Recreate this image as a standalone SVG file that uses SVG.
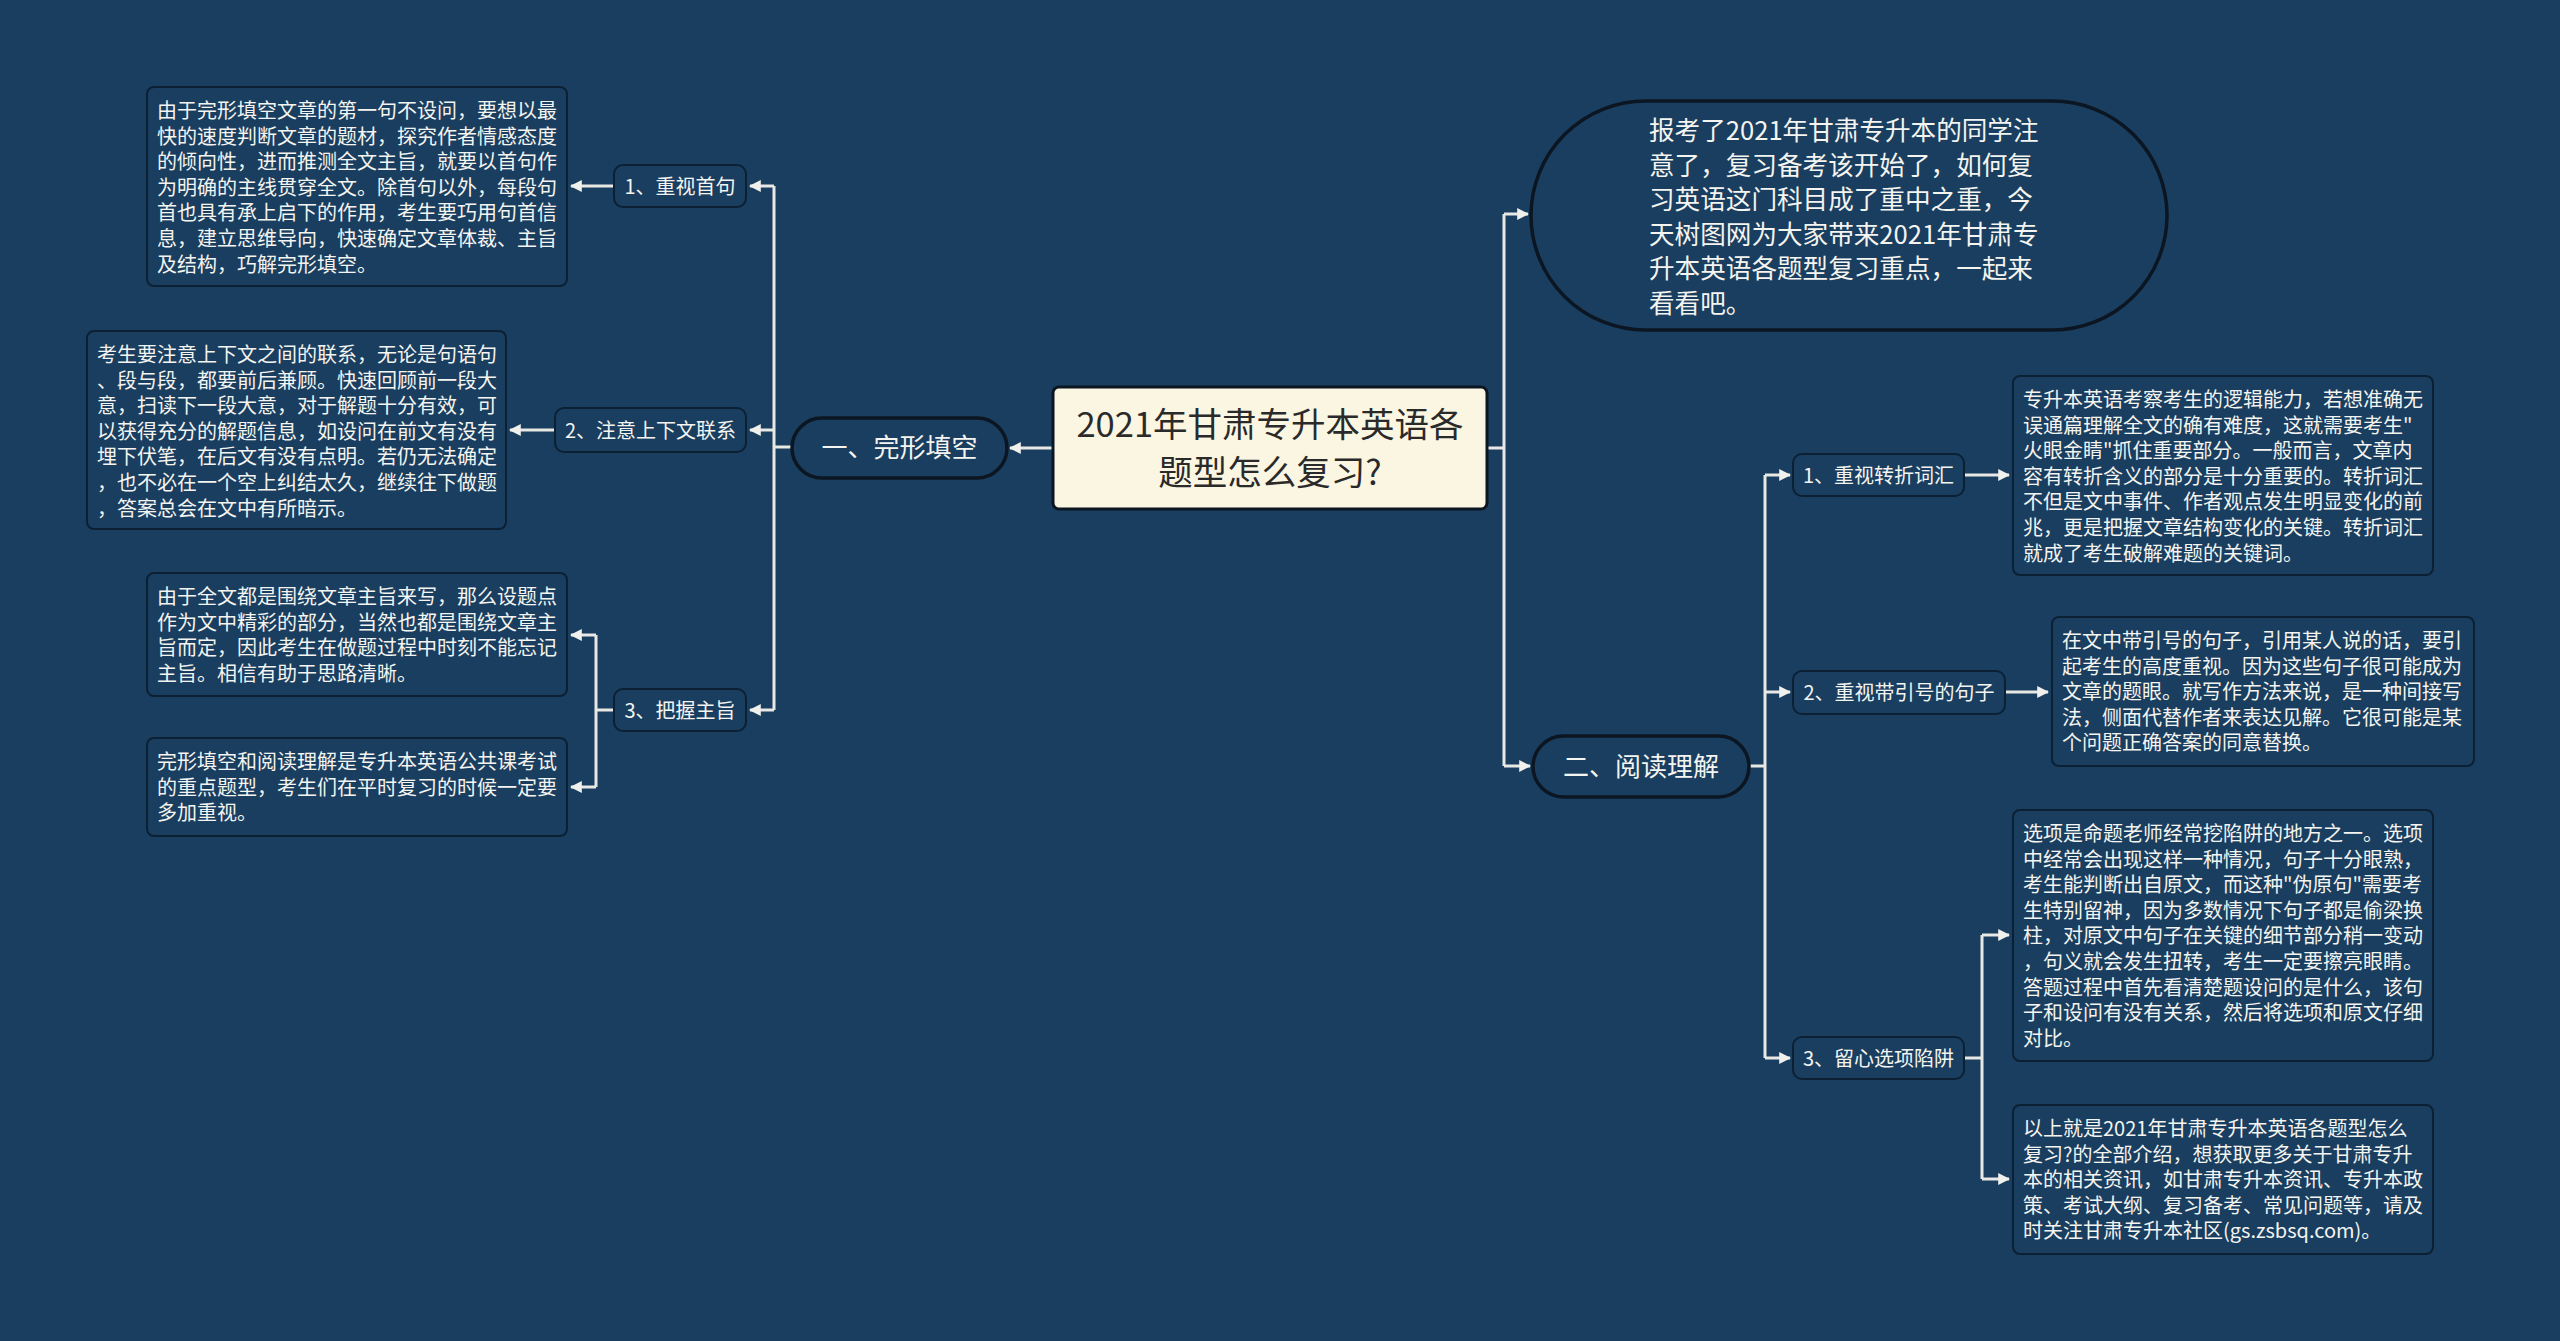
<svg xmlns="http://www.w3.org/2000/svg" width="2560" height="1341" viewBox="0 0 2560 1341">
<style>
.bg{fill:#1a3e5f}
.leaf{fill:#1a3e5f;stroke:#0c2034;stroke-width:2}
.sub{fill:#1a3e5f;stroke:#0c2034;stroke-width:2}
.pill{fill:#1a3e5f;stroke:#0b1622;stroke-width:3.5}
.root{fill:#fbf6e2;stroke:#0b1622;stroke-width:3}
.t{font-family:"Noto Sans CJK SC","Microsoft YaHei",sans-serif;fill:#f4f4f0}
.lt{font-size:20px}
.st{font-size:20px;text-anchor:middle}
.pt{font-size:26px;text-anchor:middle}
.it{font-size:25.6px}
.rt{font-family:"Noto Sans CJK SC","Microsoft YaHei",sans-serif;font-size:34.5px;fill:#2a2a2a;text-anchor:middle}
.c{fill:none;stroke:#e8e8e4;stroke-width:3}
</style>
<defs>
<marker id="ah" viewBox="0 0 10 10" refX="9" refY="5" markerWidth="4" markerHeight="4" orient="auto" markerUnits="strokeWidth">
<path d="M0,0 L10,5 L0,10 z" fill="#f0f0ec"/>
</marker>
</defs>
<rect class="bg" x="0" y="0" width="2560" height="1341"/>

<g id="connectors">
<path class="c" d="M1053,448 H1010" marker-end="url(#ah)"/>
<path class="c" d="M792,447 H774 M774,186 V710"/>
<path class="c" d="M774,186 H750" marker-end="url(#ah)"/>
<path class="c" d="M774,430 H750" marker-end="url(#ah)"/>
<path class="c" d="M774,710 H750" marker-end="url(#ah)"/>
<path class="c" d="M614,186 H571" marker-end="url(#ah)"/>
<path class="c" d="M555,430 H510" marker-end="url(#ah)"/>
<path class="c" d="M614,710 H596 M596,635 V787"/>
<path class="c" d="M596,635 H571" marker-end="url(#ah)"/>
<path class="c" d="M596,787 H571" marker-end="url(#ah)"/>
<path class="c" d="M1487,448 H1504 M1504,214 V766"/>
<path class="c" d="M1504,214 H1528" marker-end="url(#ah)"/>
<path class="c" d="M1504,766 H1530" marker-end="url(#ah)"/>
<path class="c" d="M1749,766 H1765 M1765,475 V1058"/>
<path class="c" d="M1765,475 H1790" marker-end="url(#ah)"/>
<path class="c" d="M1765,692 H1790" marker-end="url(#ah)"/>
<path class="c" d="M1765,1058 H1790" marker-end="url(#ah)"/>
<path class="c" d="M1964,475 H2009" marker-end="url(#ah)"/>
<path class="c" d="M2005,692 H2048" marker-end="url(#ah)"/>
<path class="c" d="M1964,1058 H1982 M1982,935 V1179"/>
<path class="c" d="M1982,935 H2009" marker-end="url(#ah)"/>
<path class="c" d="M1982,1179 H2009" marker-end="url(#ah)"/>
</g>

<g id="root">
<rect class="root" x="1053" y="387" width="434" height="122" rx="6"/>
<text class="rt" x="1270" y="437">2021年甘肃专升本英语各</text>
<text class="rt" x="1270" y="485">题型怎么复习?</text>
</g>

<g id="n-wanxing">
<rect class="pill" x="792" y="418" width="215" height="60" rx="30"/>
<text class="t pt" x="899.5" y="457">一、完形填空</text>
</g>

<g id="n-w1">
<rect class="sub" x="614" y="165" width="132" height="42" rx="9"/>
<text class="t st" x="680" y="194">1、重视首句</text>
</g>
<g id="n-w2">
<rect class="sub" x="555" y="408" width="191" height="44" rx="9"/>
<text class="t st" x="650.5" y="438">2、注意上下文联系</text>
</g>
<g id="n-w3">
<rect class="sub" x="614" y="689" width="132" height="42" rx="9"/>
<text class="t st" x="680" y="718">3、把握主旨</text>
</g>

<g id="leaf-w1">
<rect class="leaf" x="147" y="87" width="420" height="199" rx="7"/>
<text class="t lt" x="157" y="118">由于完形填空文章的第一句不设问，要想以最</text>
<text class="t lt" x="157" y="143.6">快的速度判断文章的题材，探究作者情感态度</text>
<text class="t lt" x="157" y="169.2">的倾向性，进而推测全文主旨，就要以首句作</text>
<text class="t lt" x="157" y="194.8">为明确的主线贯穿全文。除首句以外，每段句</text>
<text class="t lt" x="157" y="220.4">首也具有承上启下的作用，考生要巧用句首信</text>
<text class="t lt" x="157" y="246">息，建立思维导向，快速确定文章体裁、主旨</text>
<text class="t lt" x="157" y="271.6">及结构，巧解完形填空。</text>
</g>

<g id="leaf-w2">
<rect class="leaf" x="87" y="331" width="419" height="198" rx="7"/>
<text class="t lt" x="97" y="362">考生要注意上下文之间的联系，无论是句语句</text>
<text class="t lt" x="97" y="387.6">、段与段，都要前后兼顾。快速回顾前一段大</text>
<text class="t lt" x="97" y="413.2">意，扫读下一段大意，对于解题十分有效，可</text>
<text class="t lt" x="97" y="438.8">以获得充分的解题信息，如设问在前文有没有</text>
<text class="t lt" x="97" y="464.4">埋下伏笔，在后文有没有点明。若仍无法确定</text>
<text class="t lt" x="97" y="490">，也不必在一个空上纠结太久，继续往下做题</text>
<text class="t lt" x="97" y="515.6">，答案总会在文中有所暗示。</text>
</g>

<g id="leaf-w3a">
<rect class="leaf" x="147" y="573" width="420" height="123" rx="7"/>
<text class="t lt" x="157" y="604">由于全文都是围绕文章主旨来写，那么设题点</text>
<text class="t lt" x="157" y="629.6">作为文中精彩的部分，当然也都是围绕文章主</text>
<text class="t lt" x="157" y="655.2">旨而定，因此考生在做题过程中时刻不能忘记</text>
<text class="t lt" x="157" y="680.8">主旨。相信有助于思路清晰。</text>
</g>

<g id="leaf-w3b">
<rect class="leaf" x="147" y="738" width="420" height="98" rx="7"/>
<text class="t lt" x="157" y="769">完形填空和阅读理解是专升本英语公共课考试</text>
<text class="t lt" x="157" y="794.6">的重点题型，考生们在平时复习的时候一定要</text>
<text class="t lt" x="157" y="820.2">多加重视。</text>
</g>

<g id="intro">
<rect class="pill" x="1531" y="101" width="636" height="229" rx="114.5"/>
<text class="t it" x="1649" y="140">报考了2021年甘肃专升本的同学注</text>
<text class="t it" x="1649" y="174.5">意了，复习备考该开始了，如何复</text>
<text class="t it" x="1649" y="209">习英语这门科目成了重中之重，今</text>
<text class="t it" x="1649" y="243.5">天树图网为大家带来2021年甘肃专</text>
<text class="t it" x="1649" y="278">升本英语各题型复习重点，一起来</text>
<text class="t it" x="1649" y="312.5">看看吧。</text>
</g>

<g id="n-yuedu">
<rect class="pill" x="1533" y="736" width="216" height="61" rx="30.5"/>
<text class="t pt" x="1641" y="776">二、阅读理解</text>
</g>

<g id="n-y1">
<rect class="sub" x="1793" y="454" width="171" height="42" rx="9"/>
<text class="t st" x="1878.5" y="483">1、重视转折词汇</text>
</g>
<g id="n-y2">
<rect class="sub" x="1793" y="671" width="212" height="43" rx="9"/>
<text class="t st" x="1899" y="700">2、重视带引号的句子</text>
</g>
<g id="n-y3">
<rect class="sub" x="1793" y="1037" width="171" height="42" rx="9"/>
<text class="t st" x="1878.5" y="1066">3、留心选项陷阱</text>
</g>

<g id="leaf-y1">
<rect class="leaf" x="2013" y="376" width="420" height="199" rx="7"/>
<text class="t lt" x="2023" y="407">专升本英语考察考生的逻辑能力，若想准确无</text>
<text class="t lt" x="2023" y="432.6">误通篇理解全文的确有难度，这就需要考生"</text>
<text class="t lt" x="2023" y="458.2">火眼金睛"抓住重要部分。一般而言，文章内</text>
<text class="t lt" x="2023" y="483.8">容有转折含义的部分是十分重要的。转折词汇</text>
<text class="t lt" x="2023" y="509.4">不但是文中事件、作者观点发生明显变化的前</text>
<text class="t lt" x="2023" y="535">兆，更是把握文章结构变化的关键。转折词汇</text>
<text class="t lt" x="2023" y="560.6">就成了考生破解难题的关键词。</text>
</g>

<g id="leaf-y2">
<rect class="leaf" x="2052" y="617" width="422" height="149" rx="7"/>
<text class="t lt" x="2062" y="648">在文中带引号的句子，引用某人说的话，要引</text>
<text class="t lt" x="2062" y="673.6">起考生的高度重视。因为这些句子很可能成为</text>
<text class="t lt" x="2062" y="699.2">文章的题眼。就写作方法来说，是一种间接写</text>
<text class="t lt" x="2062" y="724.8">法，侧面代替作者来表达见解。它很可能是某</text>
<text class="t lt" x="2062" y="750.4">个问题正确答案的同意替换。</text>
</g>

<g id="leaf-y3a">
<rect class="leaf" x="2013" y="810" width="420" height="251" rx="7"/>
<text class="t lt" x="2023" y="841">选项是命题老师经常挖陷阱的地方之一。选项</text>
<text class="t lt" x="2023" y="866.6">中经常会出现这样一种情况，句子十分眼熟，</text>
<text class="t lt" x="2023" y="892.2">考生能判断出自原文，而这种"伪原句"需要考</text>
<text class="t lt" x="2023" y="917.8">生特别留神，因为多数情况下句子都是偷梁换</text>
<text class="t lt" x="2023" y="943.4">柱，对原文中句子在关键的细节部分稍一变动</text>
<text class="t lt" x="2023" y="969">，句义就会发生扭转，考生一定要擦亮眼睛。</text>
<text class="t lt" x="2023" y="994.6">答题过程中首先看清楚题设问的是什么，该句</text>
<text class="t lt" x="2023" y="1020.2">子和设问有没有关系，然后将选项和原文仔细</text>
<text class="t lt" x="2023" y="1045.8">对比。</text>
</g>

<g id="leaf-y3b">
<rect class="leaf" x="2013" y="1105" width="420" height="149" rx="7"/>
<text class="t lt" x="2023" y="1136">以上就是2021年甘肃专升本英语各题型怎么</text>
<text class="t lt" x="2023" y="1161.6">复习?的全部介绍，想获取更多关于甘肃专升</text>
<text class="t lt" x="2023" y="1187.2">本的相关资讯，如甘肃专升本资讯、专升本政</text>
<text class="t lt" x="2023" y="1212.8">策、考试大纲、复习备考、常见问题等，请及</text>
<text class="t lt" x="2023" y="1238.4">时关注甘肃专升本社区(gs.zsbsq.com)。</text>
</g>
</svg>
